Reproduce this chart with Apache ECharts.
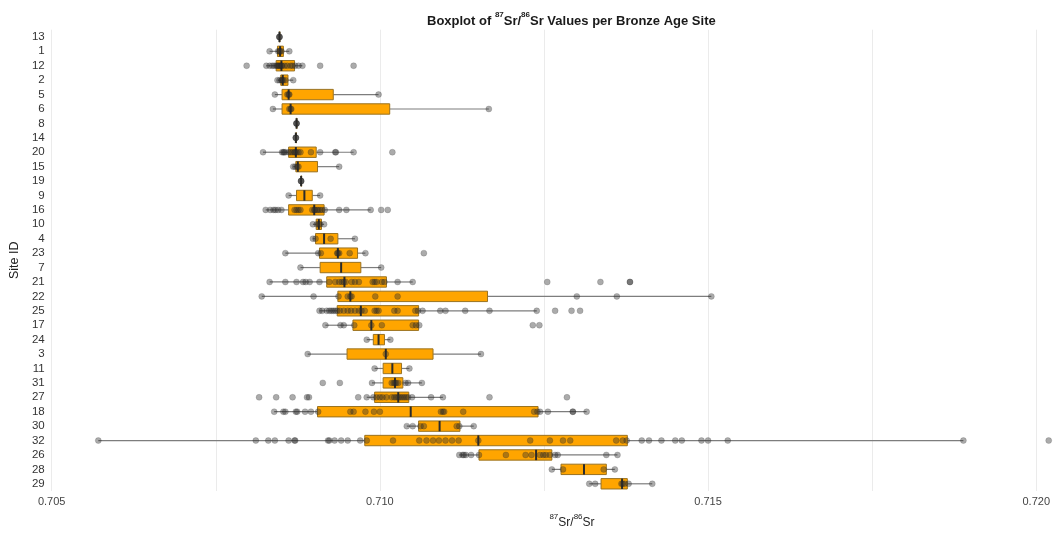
<!DOCTYPE html>
<html>
<head>
<meta charset="utf-8">
<script src="https://cdn.jsdelivr.net/npm/echarts@6/dist/echarts.min.js"></script>
<style>html,body{margin:0;padding:0;background:#fff}#c{width:1053px;height:534px}</style>
</head>
<body>
<div id="c"></div>
<script>
// Site IDs, top to bottom
const sites = ['13','1','12','2','5','6','8','14','20','15','19','9','16','10','4','23','7','21','22','25','17','24','3','11','31','27','18','30','32','26','28','29'];

// Box statistics per site (same order as sites)
const whiskerLow  = [0.70846,0.70832,0.70827,0.70844,0.70840,0.70837,0.70872,0.70871,0.70822,0.70868,0.70879,0.70861,0.70826,0.70898,0.70898,0.70856,0.70879,0.70832,0.70820,0.70908,0.70917,0.70980,0.70890,0.70992,0.70988,0.70980,0.70839,0.71041,0.70571,0.71121,0.71262,0.71319];
const q1          = [0.70847,0.70844,0.70842,0.70849,0.70851,0.70851,0.70873,0.70872,0.70861,0.70872,0.70880,0.70873,0.70861,0.70903,0.70902,0.70908,0.70909,0.70919,0.70936,0.70935,0.70959,0.70990,0.70950,0.71005,0.71005,0.70992,0.70905,0.71059,0.70977,0.71151,0.71276,0.71337];
const median      = [0.70847,0.70848,0.70850,0.70852,0.70861,0.70864,0.70873,0.70872,0.70872,0.70875,0.70880,0.70885,0.70900,0.70907,0.70915,0.70936,0.70941,0.70946,0.70955,0.70971,0.70987,0.70998,0.71009,0.71019,0.71023,0.71028,0.71047,0.71091,0.71150,0.71238,0.71311,0.71369];
const q3          = [0.70847,0.70853,0.70870,0.70860,0.70929,0.71015,0.70873,0.70872,0.70903,0.70905,0.70880,0.70897,0.70915,0.70911,0.70936,0.70966,0.70971,0.71010,0.71164,0.71059,0.71059,0.71007,0.71081,0.71033,0.71035,0.71044,0.71241,0.71122,0.71377,0.71262,0.71345,0.71377];
const whiskerHigh = [0.70848,0.70862,0.70882,0.70868,0.70998,0.71166,0.70874,0.70873,0.70960,0.70938,0.70881,0.70909,0.70986,0.70915,0.70962,0.70978,0.71002,0.71050,0.71505,0.71239,0.71060,0.71016,0.71154,0.71045,0.71064,0.71096,0.71315,0.71143,0.71889,0.71362,0.71358,0.71415];

// Individual measurements per site (same order as sites)
const pointsBySite = [
  [0.70847,0.70847,0.70847],
  [0.70832,0.70845,0.70847,0.70848,0.70850,0.70862],
  [0.70797,0.70827,0.70832,0.70836,0.70839,0.70842,0.70844,0.70845,0.70847,0.70848,0.70850,0.70851,0.70855,0.70859,0.70864,0.70867,0.70871,0.70876,0.70882,0.70909,0.70960],
  [0.70844,0.70847,0.70850,0.70851,0.70853,0.70856,0.70868],
  [0.70840,0.70859,0.70861,0.70862,0.70998],
  [0.70837,0.70862,0.70864,0.70865,0.71166],
  [0.70873,0.70873,0.70873],
  [0.70872,0.70872,0.70872],
  [0.70822,0.70851,0.70853,0.70854,0.70856,0.70861,0.70864,0.70867,0.70870,0.70871,0.70873,0.70876,0.70879,0.70895,0.70909,0.70932,0.70933,0.70960,0.71019],
  [0.70868,0.70871,0.70874,0.70876,0.70938],
  [0.70880,0.70880,0.70880],
  [0.70861,0.70909],
  [0.70826,0.70833,0.70838,0.70841,0.70845,0.70850,0.70870,0.70873,0.70876,0.70879,0.70897,0.70900,0.70901,0.70904,0.70906,0.70909,0.70912,0.70916,0.70938,0.70949,0.70986,0.71002,0.71012],
  [0.70898,0.70904,0.70907,0.70909,0.70915],
  [0.70898,0.70902,0.70925,0.70962],
  [0.70856,0.70906,0.70910,0.70935,0.70936,0.70938,0.70954,0.70978,0.71067],
  [0.70879,0.71002],
  [0.70832,0.70856,0.70873,0.70883,0.70887,0.70893,0.70908,0.70923,0.70932,0.70938,0.70942,0.70945,0.70948,0.70957,0.70962,0.70968,0.70989,0.70992,0.70995,0.71003,0.71007,0.71027,0.71050,0.71255,0.71336,0.71381,0.71381],
  [0.70820,0.70899,0.70937,0.70951,0.70955,0.70957,0.70993,0.71027,0.71300,0.71361,0.71505],
  [0.70908,0.70912,0.70919,0.70923,0.70926,0.70929,0.70932,0.70935,0.70939,0.70945,0.70951,0.70956,0.70962,0.70968,0.70972,0.70977,0.70992,0.70995,0.70998,0.71022,0.71027,0.71054,0.71058,0.71065,0.71092,0.71100,0.71130,0.71167,0.71239,0.71267,0.71292,0.71305],
  [0.70917,0.70940,0.70945,0.70961,0.70987,0.71003,0.71050,0.71055,0.71060,0.71233,0.71243],
  [0.70980,0.71016],
  [0.70890,0.71009,0.71154],
  [0.70992,0.71045],
  [0.70913,0.70939,0.70988,0.71018,0.71021,0.71023,0.71025,0.71028,0.71039,0.71043,0.71064],
  [0.70816,0.70842,0.70867,0.70889,0.70892,0.70967,0.70980,0.70990,0.70995,0.71000,0.71004,0.71010,0.71018,0.71022,0.71025,0.71028,0.71031,0.71034,0.71037,0.71040,0.71043,0.71049,0.71078,0.71096,0.71167,0.71285],
  [0.70839,0.70853,0.70856,0.70872,0.70874,0.70886,0.70895,0.70906,0.70955,0.70960,0.70978,0.70991,0.71000,0.71093,0.71096,0.71098,0.71127,0.71235,0.71240,0.71244,0.71256,0.71294,0.71294,0.71315],
  [0.71041,0.71050,0.71062,0.71067,0.71117,0.71121,0.71143],
  [0.70571,0.70811,0.70830,0.70840,0.70861,0.70870,0.70871,0.70921,0.70923,0.70931,0.70941,0.70951,0.70970,0.70980,0.71020,0.71060,0.71071,0.71081,0.71090,0.71100,0.71110,0.71120,0.71150,0.71229,0.71259,0.71279,0.71290,0.71360,0.71370,0.71376,0.71399,0.71410,0.71429,0.71450,0.71460,0.71490,0.71500,0.71530,0.71889,0.72019],
  [0.71121,0.71126,0.71128,0.71131,0.71139,0.71151,0.71192,0.71222,0.71231,0.71244,0.71249,0.71253,0.71259,0.71267,0.71271,0.71345,0.71362],
  [0.71262,0.71279,0.71341,0.71358],
  [0.71319,0.71328,0.71368,0.71370,0.71373,0.71379,0.71415]
];

const xTickMin = 0.705, xTickMax = 0.720, xTickStep = 0.005;

const boxData = sites.map((s, i) => [i, whiskerLow[i], q1[i], median[i], q3[i], whiskerHigh[i]]);
const scatterData = [];
pointsBySite.forEach((arr, i) => arr.forEach(v => scatterData.push([v, sites[i]])));

const FONT = 'Liberation Sans, Arial, sans-serif';
const chart = echarts.init(document.getElementById('c'), null, {renderer: 'canvas'});
chart.setOption({
  animation: false,
  backgroundColor: '#ffffff',
  title: {
    text: '{b|Boxplot of }{s|87}{b|Sr/}{s|86}{b|Sr Values per Bronze Age Site}',
    left: 422, top: 6,
    textStyle: {
      rich: {
        b: {fontFamily: FONT, fontSize: 13, fontWeight: 'bold', color: '#1a1a1a', lineHeight: 17, verticalAlign: 'bottom'},
        s: {fontFamily: FONT, fontSize: 8, fontWeight: 'bold', color: '#1a1a1a', lineHeight: 17, verticalAlign: 'top'}
      }
    }
  },
  grid: {left: 47.3, right: 12.7, top: 29.7, bottom: 37.7, containLabel: false},
  xAxis: {
    type: 'value', min: xTickMin, max: xTickMax, interval: xTickStep,
    name: '{s|87}{n|Sr/}{s|86}{n|Sr}',
    nameLocation: 'middle', nameGap: 22,
    nameTextStyle: {
      padding: [0, 0, 0, 56],
      rich: {
        n: {fontFamily: FONT, fontSize: 12, color: '#222', lineHeight: 16, verticalAlign: 'bottom'},
        s: {fontFamily: FONT, fontSize: 8, color: '#222', lineHeight: 16, verticalAlign: 'top'}
      }
    },
    axisLine: {show: false}, axisTick: {show: false},
    axisLabel: {fontFamily: FONT, fontSize: 11, color: '#444', margin: 5, formatter: v => v.toFixed(3)},
    splitLine: {show: true, lineStyle: {color: '#ebebeb', width: 1}},
    minorTick: {show: false, splitNumber: 2},
    minorSplitLine: {show: true, lineStyle: {color: '#ebebeb', width: 1}}
  },
  yAxis: {
    type: 'category', data: sites, inverse: true,
    name: 'Site ID', nameLocation: 'middle', nameRotate: 90, nameGap: 24,
    nameTextStyle: {fontFamily: FONT, fontSize: 12.5, color: '#222'},
    axisLine: {show: false}, axisTick: {show: false}, splitLine: {show: false},
    axisLabel: {fontFamily: FONT, fontSize: 11.5, color: '#333', margin: 7, interval: 0, hideOverlap: false}
  },
  series: [
    {
      type: 'custom',
      data: boxData,
      encode: {x: [1, 2, 3, 4, 5], y: 0},
      z: 2,
      renderItem: function (params, api) {
        const c = api.value(0);
        const pLow = api.coord([api.value(1), c]);
        const pQ1 = api.coord([api.value(2), c]);
        const pMed = api.coord([api.value(3), c]);
        const pQ3 = api.coord([api.value(4), c]);
        const pHigh = api.coord([api.value(5), c]);
        const band = api.size([0, 1])[1];
        const h = band * 0.72;
        const yc = pMed[1];
        return {
          type: 'group',
          children: [
            {type: 'line', shape: {x1: pLow[0], y1: yc, x2: pQ1[0], y2: yc}, style: {stroke: '#7d7d7d', lineWidth: 1.2}},
            {type: 'line', shape: {x1: pQ3[0], y1: yc, x2: pHigh[0], y2: yc}, style: {stroke: '#7d7d7d', lineWidth: 1.2}},
            {type: 'rect', shape: {x: pQ1[0], y: yc - h / 2, width: Math.max(pQ3[0] - pQ1[0], 0.5), height: h}, style: {fill: '#FFA500', stroke: '#9a7220', lineWidth: 1}},
            {type: 'line', shape: {x1: pMed[0], y1: yc - h / 2, x2: pMed[0], y2: yc + h / 2}, style: {stroke: '#2b2b2b', lineWidth: 2}}
          ]
        };
      }
    },
    {
      type: 'scatter',
      data: scatterData,
      symbol: 'circle',
      symbolSize: 6,
      clip: false,
      z: 3,
      itemStyle: {color: 'rgba(45,45,45,0.5)', borderColor: 'rgba(30,30,30,0.35)', borderWidth: 0.6}
    }
  ]
});
</script>
</body>
</html>
